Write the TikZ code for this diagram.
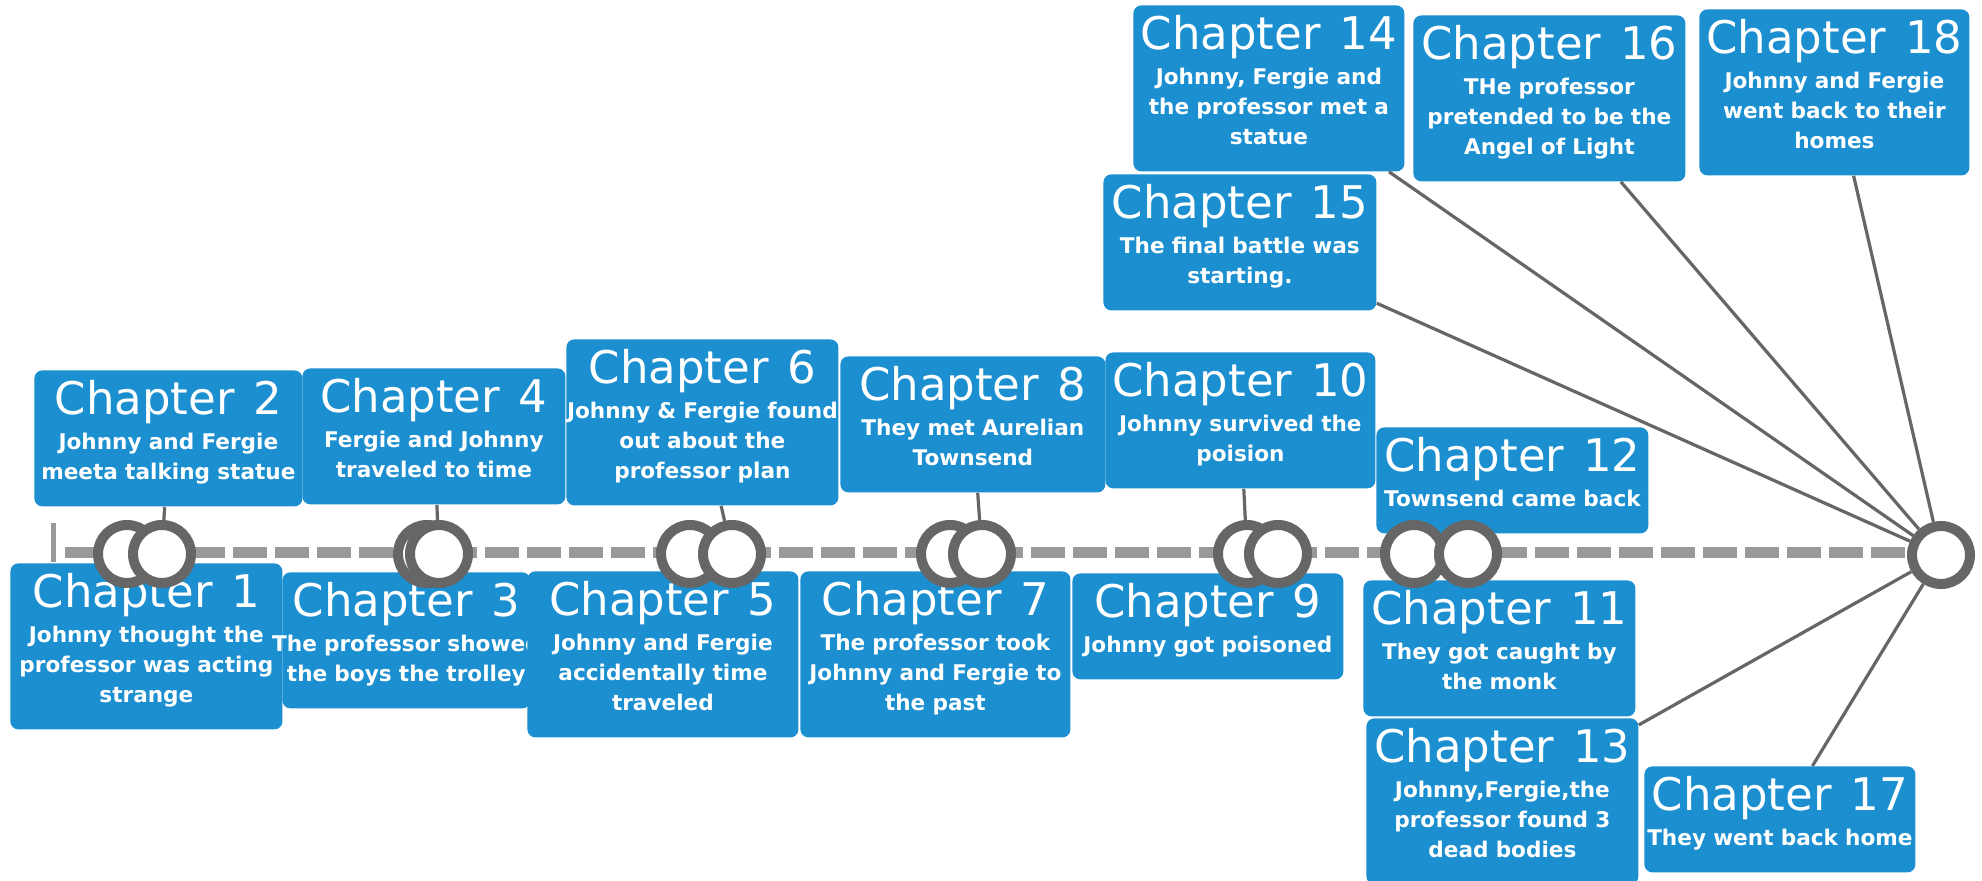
\documentclass[tikz,border=0pt]{standalone}
\usepackage{fontspec}
\setmainfont{DejaVu Sans}
\usepackage{xcolor}
\definecolor{chapblue}{RGB}{27,143,208}
\definecolor{ringgray}{RGB}{102,102,102}
\definecolor{dashgray}{RGB}{153,153,153}
\newcommand{\chap}[2]{\rule{0pt}{22pt}{\fontsize{22.5}{27}\selectfont\mdseries Chapter\hspace{.42em}#1}\\[2.5pt]#2\rule[-13.5pt]{0pt}{13.5pt}}

\begin{document}
\begin{tikzpicture}[x=.5pt,y=-.5pt,
  chapbox/.style={fill=chapblue,rounded corners=4pt,text=white,anchor=north west,
    inner xsep=0pt,inner ysep=0pt,align=center,text width=#1,
    font=\fontsize{10.8}{15}\selectfont\bfseries},
  chapbox/.default=136pt,
  ring/.style={circle,draw=ringgray,line width=5pt,fill=white,minimum size=29pt,inner sep=0pt},
  link/.style={draw=ringgray,line width=1.6pt}]
\path[use as bounding box,fill=white] (0,0) rectangle (1982,881);
% below the line
\node[chapbox] (ch1) at (10,563) {\chap{1}{Johnny thought the\\professor was acting\\strange}};
\node[chapbox=124pt] (ch3) at (282,572) {\chap{3}{\makebox[\linewidth]{The professor showed}\\the boys the trolley}};
\node[chapbox=135.5pt] (ch5) at (527,571) {\chap{5}{Johnny and Fergie\\accidentally time\\traveled}};
\node[chapbox=135pt] (ch7) at (800,571) {\chap{7}{The professor took\\Johnny and Fergie to\\the past}};
\node[chapbox=135.5pt] (ch9) at (1072,573) {\chap{9}{Johnny got poisoned}};
\node[chapbox] (ch11) at (1363,580) {\chap{11}{They got caught by\\the monk}};
\node[chapbox] (ch13) at (1366,718) {\chap{13}{Johnny,Fergie,the\\professor found 3\\dead bodies}};
\node[chapbox=135.5pt] (ch17) at (1644,766) {\chap{17}{They went back home}};
% above the line
\node[chapbox=134pt] (ch2) at (34,370) {\chap{2}{Johnny and Fergie\\meeta talking statue}};
\node[chapbox=131.5pt] (ch4) at (302,368) {\chap{4}{Fergie and Johnny\\traveled to time}};
\node[chapbox] (ch6) at (566,339) {\chap{6}{Johnny \& Fergie found\\out about the\\professor plan}};
\node[chapbox=132.5pt] (ch8) at (840,356) {\chap{8}{They met Aurelian\\Townsend}};
\node[chapbox=135pt] (ch10) at (1105,352) {\chap{10}{Johnny survived the\\poision}};
\node[chapbox] (ch12) at (1376,427) {\chap{12}{Townsend came back}};
\node[chapbox=135.5pt] (ch14) at (1133,5) {\chap{14}{Johnny, Fergie and\\the professor met a\\statue}};
\node[chapbox=136.5pt] (ch15) at (1103,174) {\chap{15}{The final battle was\\starting.}};
\node[chapbox] (ch16) at (1413,15) {\chap{16}{THe professor\\pretended to be the\\Angel of Light}};
\node[chapbox=135pt] (ch18) at (1699,9) {\chap{18}{Johnny and Fergie\\went back to their\\homes}};
% time line
\coordinate (start) at (65,553);
\coordinate (finish) at (1915,553);
\draw[dashgray,line width=2.5pt] (53,523) -- (53,562);
\draw[dashgray,line width=5.5pt,dash pattern=on 17pt off 4pt] (start) -- (finish);
\foreach \n/\x in {1/127,2/162,3/427,4/439,5/690,6/732,7/950,8/982,10/1247,9/1278,11/1414,12/1468}
  \node[ring] (c\n) at (\x,554) {};
\node[ring] (hub) at (1941,555) {};
\foreach \n in {2,4,...,10} \draw[link] (ch\n) -- (c\n);
\foreach \n in {13,...,18} \draw[link] (ch\n) -- (hub);
\end{tikzpicture}
\end{document}
